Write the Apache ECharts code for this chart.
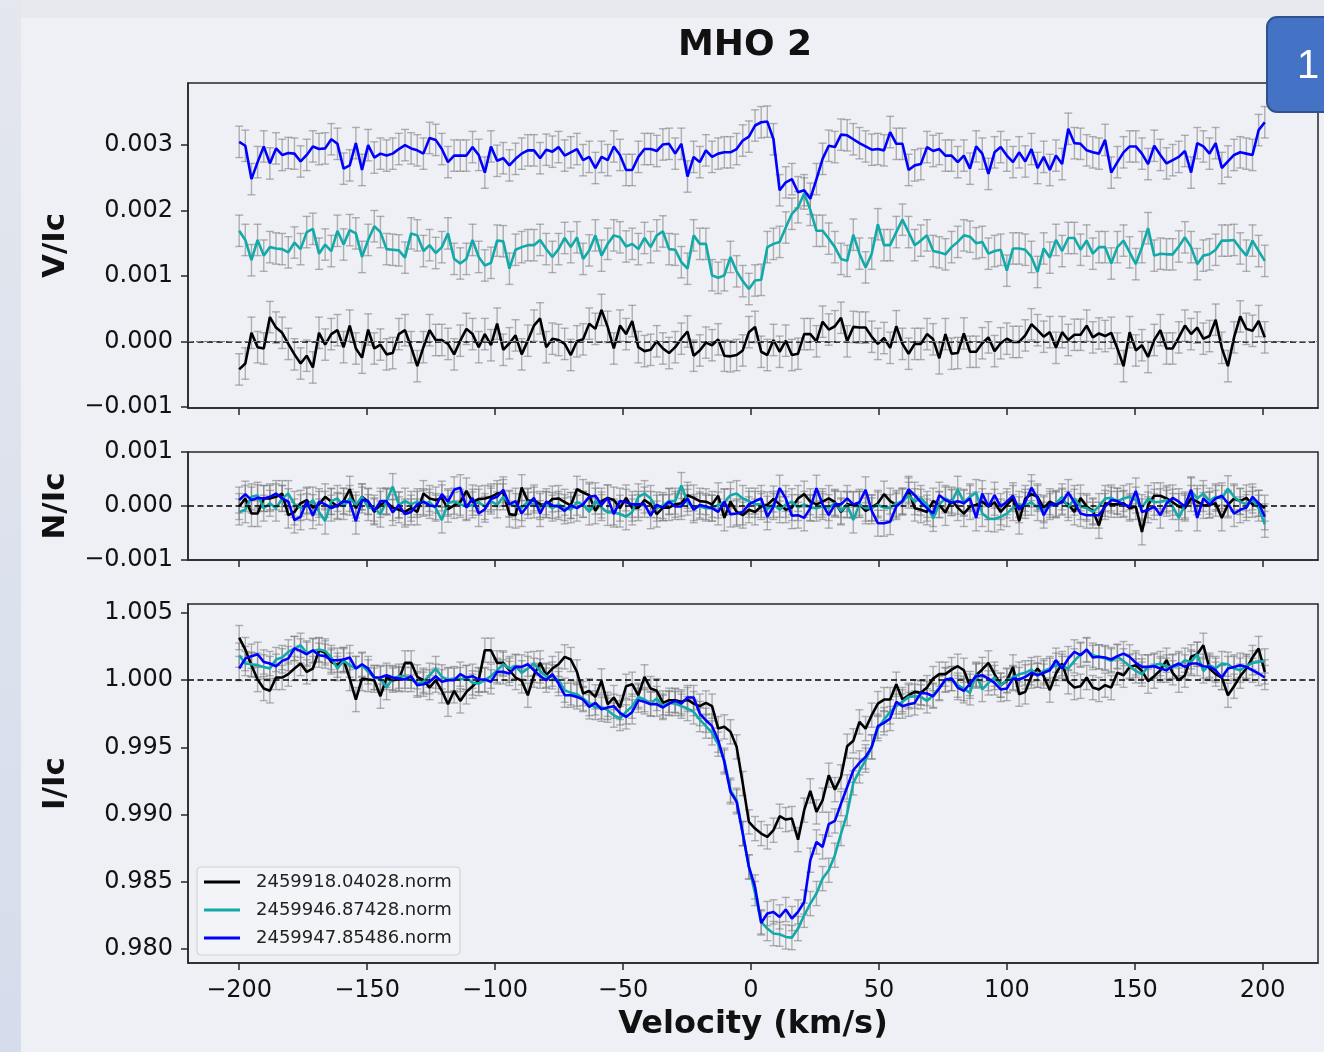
<!DOCTYPE html>
<html>
<head>
<meta charset="utf-8">
<script src="https://cdn.jsdelivr.net/npm/echarts@6/dist/echarts.min.js"></script>
<style>
html,body{margin:0;padding:0;background:#eef0f5;}
#chart{width:1324px;height:1052px;}
</style>
</head>
<body>
<div id="chart"></div>
<script>
// ---------------- data ----------------
const velocity = [
-200,-197.6,-195.2,-192.8,-190.4,-188,-185.6,-183.2,-180.8,-178.4,
-176,-173.6,-171.2,-168.8,-166.4,-164,-161.6,-159.2,-156.8,-154.4,
-152,-149.6,-147.2,-144.8,-142.4,-140,-137.6,-135.2,-132.8,-130.4,
-128,-125.6,-123.2,-120.8,-118.4,-116,-113.6,-111.2,-108.8,-106.4,
-104,-101.6,-99.2,-96.8,-94.4,-92,-89.6,-87.2,-84.8,-82.4,
-80,-77.6,-75.2,-72.8,-70.4,-68,-65.6,-63.2,-60.8,-58.4,
-56,-53.6,-51.2,-48.8,-46.4,-44,-41.6,-39.2,-36.8,-34.4,
-32,-29.6,-27.2,-24.8,-22.4,-20,-17.6,-15.2,-12.8,-10.4,
-8,-5.6,-3.2,-0.8,1.6,4,6.4,8.8,11.2,13.6,
16,18.4,20.8,23.2,25.6,28,30.4,32.8,35.2,37.6,
40,42.4,44.8,47.2,49.6,52,54.4,56.8,59.2,61.6,
64,66.4,68.8,71.2,73.6,76,78.4,80.8,83.2,85.6,
88,90.4,92.8,95.2,97.6,100,102.4,104.8,107.2,109.6,
112,114.4,116.8,119.2,121.6,124,126.4,128.8,131.2,133.6,
136,138.4,140.8,143.2,145.6,148,150.4,152.8,155.2,157.6,
160,162.4,164.8,167.2,169.6,172,174.4,176.8,179.2,181.6,
184,186.4,188.8,191.2,193.6,196,198.4,200.8];

const seriesNames = ['2459918.04028.norm', '2459946.87428.norm', '2459947.85486.norm'];
const seriesColors = ['#000000', '#12a9a9', '#0000ff'];

// V/Ic (teal and blue are displayed shifted by the offsets below)
const vBlack = [
-0.00043,-0.00034,0.00013,-0.00009,-0.00011,0.00037,0.00021,0.00013,-0.00004,-0.00020,
-0.00034,-0.00022,-0.00040,0.00013,-0.00005,0.00011,0.00017,-0.00009,0.00024,-0.00011,
-0.00025,0.00018,-0.00011,-0.00005,-0.00020,-0.00018,0.00011,0.00017,-0.00009,-0.00038,
-0.00009,0.00017,0.00002,0.00002,-0.00004,-0.00020,0.00001,0.00019,0.00011,-0.00009,
0.00011,-0.00006,0.00027,-0.00013,-0.00003,0.00009,-0.00020,0.00001,0.00024,0.00035,
-0.00009,0.00004,0.00002,-0.00004,-0.00021,0.00000,0.00003,0.00027,0.00019,0.00048,
0.00022,-0.00011,0.00024,0.00011,0.00031,-0.00009,-0.00015,-0.00013,0.00000,-0.00011,
-0.00018,-0.00009,0.00004,0.00015,-0.00022,-0.00014,-0.00002,-0.00006,0.00003,-0.00022,
-0.00023,-0.00021,-0.00014,0.00014,0.00022,-0.00016,-0.00021,0.00002,-0.00016,0.00001,
-0.00021,-0.00019,0.00011,0.00011,0.00000,0.00030,0.00018,0.00023,0.00036,0.00000,
0.00022,0.00021,0.00021,0.00007,-0.00004,0.00005,-0.00010,0.00023,-0.00004,-0.00019,
-0.00004,-0.00004,0.00011,0.00003,-0.00026,0.00011,-0.00019,-0.00018,0.00012,-0.00016,
-0.00016,-0.00003,0.00006,-0.00015,-0.00003,0.00004,-0.00001,-0.00001,0.00009,0.00026,
0.00017,0.00007,0.00014,-0.00010,0.00014,0.00002,0.00010,0.00010,0.00024,0.00006,
0.00012,0.00008,0.00013,-0.00011,-0.00038,0.00014,-0.00014,-0.00006,-0.00024,0.00002,
0.00017,-0.00011,-0.00011,0.00006,0.00024,0.00011,0.00021,0.00004,0.00008,0.00033,
-0.00010,-0.00038,0.00006,0.00038,0.00019,0.00016,0.00031,0.00006];

const vTeal = [
0.00169,0.00155,0.00124,0.00155,0.00131,0.00144,0.00142,0.00141,0.00136,0.00151,
0.00141,0.00167,0.00172,0.00134,0.00148,0.00138,0.00169,0.00148,0.00170,0.00165,
0.00129,0.00155,0.00176,0.00167,0.00141,0.00140,0.00139,0.00128,0.00165,0.00162,
0.00138,0.00147,0.00135,0.00144,0.00165,0.00126,0.00119,0.00126,0.00155,0.00129,
0.00116,0.00120,0.00154,0.00153,0.00111,0.00140,0.00144,0.00147,0.00147,0.00155,
0.00141,0.00129,0.00141,0.00158,0.00144,0.00159,0.00126,0.00139,0.00162,0.00131,
0.00149,0.00162,0.00159,0.00145,0.00149,0.00141,0.00158,0.00144,0.00162,0.00168,
0.00141,0.00140,0.00121,0.00111,0.00162,0.00149,0.00149,0.00101,0.00097,0.00101,
0.00129,0.00107,0.00092,0.00080,0.00093,0.00094,0.00144,0.00149,0.00152,0.00174,
0.00195,0.00205,0.00226,0.00201,0.00169,0.00169,0.00157,0.00144,0.00126,0.00123,
0.00163,0.00134,0.00113,0.00134,0.00179,0.00147,0.00147,0.00167,0.00186,0.00167,
0.00147,0.00154,0.00162,0.00138,0.00136,0.00133,0.00144,0.00152,0.00162,0.00160,
0.00150,0.00152,0.00134,0.00138,0.00140,0.00108,0.00142,0.00142,0.00140,0.00129,
0.00106,0.00142,0.00128,0.00155,0.00138,0.00158,0.00158,0.00140,0.00154,0.00134,
0.00144,0.00144,0.00119,0.00144,0.00154,0.00136,0.00118,0.00144,0.00173,0.00131,
0.00134,0.00133,0.00133,0.00145,0.00159,0.00144,0.00118,0.00131,0.00133,0.00140,
0.00154,0.00154,0.00155,0.00142,0.00131,0.00154,0.00138,0.00123];

const vBlue = [
0.00305,0.00299,0.00248,0.00274,0.00298,0.00272,0.00295,0.00285,0.00288,0.00287,
0.00275,0.00285,0.00298,0.00294,0.00295,0.00309,0.00302,0.00264,0.00269,0.00303,
0.00262,0.00300,0.00281,0.00287,0.00284,0.00287,0.00294,0.00300,0.00295,0.00292,
0.00287,0.00311,0.00308,0.00294,0.00274,0.00284,0.00284,0.00284,0.00297,0.00285,
0.00258,0.00298,0.00276,0.00280,0.00269,0.00279,0.00287,0.00292,0.00292,0.00280,
0.00293,0.00290,0.00297,0.00284,0.00289,0.00294,0.00277,0.00282,0.00265,0.00282,
0.00277,0.00298,0.00285,0.00262,0.00262,0.00282,0.00294,0.00294,0.00291,0.00301,
0.00302,0.00287,0.00302,0.00252,0.00282,0.00274,0.00292,0.00282,0.00287,0.00289,
0.00289,0.00294,0.00307,0.00313,0.00330,0.00335,0.00336,0.00309,0.00231,0.00243,
0.00248,0.00228,0.00231,0.00218,0.00248,0.00279,0.00299,0.00297,0.00316,0.00315,
0.00309,0.00303,0.00298,0.00293,0.00294,0.00292,0.00320,0.00302,0.00302,0.00262,
0.00269,0.00271,0.00297,0.00291,0.00294,0.00284,0.00284,0.00274,0.00284,0.00264,
0.00298,0.00287,0.00256,0.00289,0.00297,0.00284,0.00274,0.00289,0.00275,0.00294,
0.00265,0.00282,0.00262,0.00284,0.00271,0.00325,0.00303,0.00302,0.00292,0.00289,
0.00287,0.00308,0.00258,0.00274,0.00289,0.00298,0.00298,0.00287,0.00271,0.00299,
0.00285,0.00272,0.00277,0.00282,0.00291,0.00258,0.00303,0.00298,0.00287,0.00303,
0.00265,0.00275,0.00285,0.00289,0.00287,0.00285,0.00323,0.00335];

const vReferenceLevels = [0, 0.001425, 0.00285];

// N/Ic
const nBlack = [
-0.00001,0.00014,-0.00014,-0.00014,0.00014,0.00014,0.00017,0.00023,-0.00017,-0.00011,
0.00005,0.00011,-0.00003,0.00003,0.00017,0.00008,-0.00001,0.00009,0.00031,-0.00004,
0.00017,0.00008,-0.00011,0.00003,0.00007,-0.00003,-0.00007,-0.00011,-0.00004,-0.00011,
0.00023,0.00014,0.00011,0.00015,-0.00006,0.00001,0.00007,0.00028,0.00007,0.00013,
0.00014,0.00017,0.00023,0.00025,-0.00015,-0.00017,0.00034,0.00009,0.00011,0.00003,
0.00002,0.00013,0.00014,0.00007,0.00001,0.00031,0.00025,0.00020,-0.00009,0.00009,
0.00015,0.00011,-0.00004,0.00015,-0.00004,-0.00003,0.00011,0.00003,-0.00015,-0.00003,
-0.00003,0.00003,0.00005,0.00020,0.00015,0.00009,0.00008,0.00003,0.00019,-0.00022,
0.00008,-0.00011,-0.00017,-0.00007,-0.00011,-0.00001,0.00002,0.00013,0.00003,-0.00007,
-0.00003,0.00014,0.00022,0.00008,0.00003,0.00008,0.00014,0.00007,-0.00011,0.00003,
0.00002,0.00003,-0.00009,-0.00003,0.00005,0.00022,0.00009,0.00002,0.00009,0.00028,
-0.00004,-0.00007,-0.00011,0.00009,0.00002,-0.00012,0.00011,-0.00003,-0.00014,-0.00001,
0.00002,0.00008,-0.00001,0.00007,-0.00011,0.00002,0.00014,-0.00028,0.00014,0.00022,
0.00017,-0.00004,0.00008,0.00002,0.00009,0.00003,-0.00011,0.00015,-0.00001,-0.00009,
-0.00036,0.00005,0.00003,0.00003,0.00005,-0.00004,-0.00001,-0.00048,0.00002,0.00019,
0.00019,0.00014,0.00007,-0.00001,-0.00004,0.00014,0.00008,0.00001,0.00002,0.00005,
-0.00022,0.00002,0.00014,0.00009,0.00015,0.00003,0.00005,-0.00004];

const nTeal = [
-0.00011,-0.00007,0.00017,0.00020,-0.00004,0.00005,-0.00004,0.00014,0.00023,0.00003,
-0.00003,-0.00001,0.00011,-0.00011,-0.00028,0.00009,0.00014,-0.00001,0.00014,0.00002,
0.00017,-0.00003,-0.00004,-0.00015,0.00009,0.00036,0.00002,0.00009,0.00003,0.00008,
0.00005,0.00007,-0.00004,-0.00026,0.00005,0.00009,0.00003,-0.00001,0.00002,0.00007,
-0.00001,0.00009,0.00002,0.00017,0.00005,-0.00001,-0.00003,0.00008,0.00002,-0.00001,
0.00003,-0.00004,0.00003,-0.00003,-0.00007,0.00007,0.00003,-0.00011,0.00009,-0.00003,
-0.00012,-0.00011,-0.00015,-0.00020,-0.00011,0.00017,0.00023,0.00014,-0.00004,0.00001,
0.00009,0.00009,0.00038,0.00007,-0.00003,-0.00001,-0.00004,-0.00004,0.00002,0.00007,
0.00020,0.00023,0.00014,0.00009,0.00003,0.00003,-0.00006,0.00003,-0.00007,0.00003,
0.00008,-0.00003,0.00003,-0.00003,-0.00004,-0.00001,-0.00003,0.00005,-0.00009,0.00002,
-0.00026,0.00003,-0.00004,-0.00004,0.00002,-0.00003,-0.00003,0.00005,0.00007,0.00020,
0.00008,0.00014,0.00003,-0.00023,0.00003,0.00014,0.00007,0.00031,0.00007,0.00017,
0.00025,-0.00014,-0.00023,-0.00024,-0.00020,-0.00014,-0.00003,0.00003,0.00001,0.00007,
-0.00003,-0.00007,-0.00001,0.00005,0.00017,-0.00003,0.00014,-0.00001,-0.00004,-0.00011,
-0.00001,0.00014,0.00015,0.00009,0.00014,0.00017,0.00011,-0.00003,0.00014,0.00007,
0.00008,0.00011,-0.00001,-0.00022,0.00002,0.00028,0.00014,0.00023,0.00009,0.00017,
0.00014,0.00032,0.00017,0.00008,0.00003,0.00011,-0.00004,-0.00034];

const nBlue = [
0.00011,0.00022,0.00011,0.00015,0.00014,0.00017,0.00023,0.00014,0.00008,-0.00026,
-0.00020,0.00009,-0.00018,0.00008,0.00003,-0.00004,0.00001,0.00009,0.00007,-0.00028,
0.00011,0.00009,-0.00009,0.00009,0.00009,-0.00012,0.00002,-0.00015,-0.00011,0.00003,
0.00008,0.00001,-0.00001,0.00022,0.00008,0.00030,0.00034,-0.00003,0.00015,-0.00014,
-0.00006,0.00013,0.00017,0.00030,0.00003,0.00009,-0.00014,0.00001,0.00015,-0.00014,
0.00008,0.00001,-0.00001,-0.00009,0.00001,-0.00004,0.00003,0.00017,0.00019,0.00002,
0.00015,-0.00015,0.00009,0.00007,0.00003,0.00003,0.00003,-0.00018,0.00002,-0.00003,
0.00008,-0.00001,-0.00001,0.00014,-0.00007,0.00002,-0.00001,-0.00004,-0.00011,0.00008,
-0.00015,-0.00014,-0.00011,0.00003,0.00009,0.00014,-0.00020,-0.00001,0.00033,0.00014,
-0.00018,-0.00017,-0.00022,-0.00004,0.00033,0.00003,-0.00017,0.00003,0.00003,0.00014,
0.00003,0.00007,0.00030,-0.00009,-0.00032,-0.00032,-0.00029,-0.00001,0.00009,0.00031,
0.00020,0.00007,-0.00004,-0.00014,0.00020,0.00011,0.00006,0.00009,0.00005,0.00014,
-0.00022,0.00023,-0.00001,0.00020,-0.00001,0.00008,0.00019,-0.00007,0.00007,0.00034,
0.00014,-0.00017,0.00003,0.00003,0.00007,0.00025,0.00007,-0.00014,-0.00017,-0.00017,
-0.00017,-0.00001,0.00011,0.00009,0.00003,-0.00001,0.00028,-0.00011,-0.00007,-0.00001,
-0.00017,0.00005,0.00015,0.00008,-0.00001,0.00030,-0.00022,0.00014,0.00002,0.00014,
0.00019,0.00005,-0.00014,-0.00007,-0.00003,0.00017,0.00005,-0.00020];

// I/Ic
const iBlack = [
1.00317,1.00228,1.00112,1.00005,0.99938,0.99921,1.00020,1.00020,1.00045,1.00087,
1.00124,1.00062,1.00087,1.00223,1.00203,1.00136,1.00112,1.00154,1.00012,0.99856,
1.00012,1.00005,1.00000,0.99881,1.00020,1.00000,1.00005,1.00129,1.00129,1.00025,
1.00000,0.99945,1.00000,0.99921,0.99821,0.99921,0.99846,0.99913,0.99955,1.00000,
1.00223,1.00223,1.00129,1.00129,1.00074,1.00020,0.99995,0.99888,1.00037,1.00129,
1.00037,1.00087,1.00119,1.00174,1.00154,1.00062,0.99901,0.99921,0.99876,0.99995,
0.99821,0.99871,0.99797,0.99955,0.99970,0.99888,1.00025,0.99938,0.99921,0.99831,
0.99851,0.99851,0.99839,0.99856,0.99826,0.99807,0.99831,0.99807,0.99640,0.99653,
0.99616,0.99504,0.99231,0.98946,0.98896,0.98859,0.98834,0.98884,0.98988,0.98963,
0.98971,0.98814,0.99033,0.99177,0.99020,0.99107,0.99293,0.99186,0.99281,0.99509,
0.99549,0.99690,0.99640,0.99740,0.99826,0.99856,0.99856,0.99970,0.99856,0.99888,
0.99913,0.99906,0.99945,1.00012,1.00045,1.00045,1.00079,1.00104,1.00074,0.99955,
1.00037,1.00080,1.00129,1.00045,0.99963,0.99995,1.00099,0.99896,0.99913,1.00030,
1.00087,1.00030,0.99926,1.00050,1.00124,0.99988,0.99945,0.99955,1.00020,0.99945,
0.99931,0.99963,0.99945,1.00055,1.00037,1.00099,1.00112,1.00069,0.99993,1.00030,
1.00074,1.00149,1.00055,1.00000,1.00037,1.00174,1.00193,1.00260,1.00087,1.00045,
1.00020,0.99888,0.99955,1.00030,1.00087,1.00169,1.00236,1.00062];

const iTeal = [
1.00186,1.00124,1.00119,1.00112,1.00099,1.00087,1.00154,1.00169,1.00211,1.00236,
1.00260,1.00203,1.00218,1.00228,1.00218,1.00169,1.00087,1.00144,1.00112,1.00087,
1.00112,1.00062,1.00020,1.00012,0.99945,1.00012,1.00030,1.00030,1.00005,0.99975,
0.99988,1.00037,1.00087,1.00025,1.00005,1.00012,1.00005,1.00020,0.99980,0.99975,
1.00000,1.00030,1.00074,1.00119,1.00087,1.00104,1.00055,1.00087,1.00124,1.00069,
1.00030,1.00025,1.00000,0.99926,0.99906,0.99896,0.99864,0.99826,0.99797,0.99802,
0.99777,0.99740,0.99715,0.99764,0.99807,0.99876,0.99856,0.99826,0.99864,0.99807,
0.99831,0.99826,0.99807,0.99789,0.99764,0.99707,0.99658,0.99608,0.99524,0.99405,
0.99182,0.99107,0.98859,0.98611,0.98413,0.98202,0.98152,0.98115,0.98110,0.98090,
0.98085,0.98152,0.98251,0.98338,0.98413,0.98524,0.98586,0.98698,0.98859,0.99008,
0.99236,0.99325,0.99405,0.99504,0.99640,0.99707,0.99764,0.99807,0.99839,0.99876,
0.99881,0.99876,0.99846,0.99888,0.99945,1.00000,1.00012,0.99963,0.99938,0.99906,
1.00045,0.99931,0.99980,1.00020,0.99963,1.00000,1.00020,1.00045,1.00055,1.00079,
1.00037,1.00069,1.00087,1.00112,1.00104,1.00087,1.00144,1.00193,1.00223,1.00186,
1.00174,1.00161,1.00144,1.00174,1.00144,1.00104,1.00069,1.00045,1.00099,1.00112,
1.00124,1.00099,1.00099,1.00112,1.00149,1.00136,1.00193,1.00069,1.00112,1.00087,
1.00124,1.00119,1.00087,1.00074,1.00104,1.00129,1.00135,1.00144];

const iBlue = [
1.00087,1.00161,1.00179,1.00193,1.00136,1.00124,1.00104,1.00144,1.00161,1.00236,
1.00218,1.00193,1.00223,1.00186,1.00179,1.00149,1.00149,1.00154,1.00169,1.00087,
1.00119,1.00087,1.00020,1.00020,1.00037,1.00020,1.00012,1.00005,1.00030,0.99963,
0.99970,0.99988,1.00030,0.99988,1.00000,1.00000,1.00045,1.00020,1.00030,1.00005,
1.00005,0.99988,1.00062,1.00062,1.00050,1.00099,1.00099,1.00119,1.00074,1.00030,
1.00000,1.00045,0.99975,0.99888,0.99888,0.99876,0.99856,0.99802,0.99831,0.99784,
0.99797,0.99807,0.99757,0.99727,0.99764,0.99851,0.99839,0.99821,0.99821,0.99797,
0.99826,0.99846,0.99826,0.99871,0.99871,0.99752,0.99702,0.99658,0.99554,0.99392,
0.99169,0.99095,0.98859,0.98611,0.98462,0.98194,0.98264,0.98276,0.98239,0.98294,
0.98227,0.98276,0.98350,0.98661,0.98797,0.98760,0.98929,0.98953,0.99082,0.99206,
0.99330,0.99385,0.99430,0.99504,0.99658,0.99683,0.99715,0.99839,0.99807,0.99821,
0.99831,0.99906,0.99901,0.99881,0.99938,1.00005,1.00012,0.99945,0.99921,0.99975,
1.00030,1.00037,1.00012,0.99980,0.99931,0.99938,1.00012,1.00005,1.00025,1.00055,
1.00037,1.00055,1.00074,1.00149,1.00087,1.00161,1.00211,1.00186,1.00228,1.00169,
1.00174,1.00169,1.00154,1.00179,1.00198,1.00174,1.00129,1.00099,1.00099,1.00104,
1.00087,1.00074,1.00104,1.00124,1.00099,1.00124,1.00124,1.00104,1.00099,1.00074,
1.00020,1.00087,1.00099,1.00112,1.00099,1.00074,1.00050,1.00020];

// error-bar half widths per panel
const errV = 0.00024;
const errN = 0.00024;
const errI = 0.0009;

// tick positions
const xTicks = [-200, -150, -100, -50, 0, 50, 100, 150, 200];
const vTicks = [-0.001, 0.000, 0.001, 0.002, 0.003];
const nTicks = [-0.001, 0.000, 0.001];
const iTicks = [0.980, 0.985, 0.990, 0.995, 1.000, 1.005];

// ---------------- chart ----------------
const FONT = 'DejaVu Sans';
const ERR_COLOR = 'rgba(120,120,120,0.55)';
const AXIS_COLOR = '#262626';

function fmt3(v) {
  const s = (Math.abs(v) < 1e-12 ? 0 : v).toFixed(3);
  return s.replace('-', '\u2212');
}
function fmtX(v) {
  return String(Math.round(v)).replace('-', '\u2212');
}

const grids = [
  {left: 188, top: 83, width: 1130, height: 325},
  {left: 188, top: 452, width: 1130, height: 108},
  {left: 188, top: 604, width: 1130, height: 359}
].map(g => Object.assign(g, {show: true, borderColor: AXIS_COLOR, borderWidth: 1.5, backgroundColor: 'transparent'}));

const xAxes = [0, 1, 2].map(k => ({
  type: 'value', gridIndex: k, min: -220, max: 221.6, position: 'bottom',
  axisLine: {show: true, onZero: false, lineStyle: {color: AXIS_COLOR, width: 1.5}},
  splitLine: {show: false},
  axisTick: {show: true, length: 7, lineStyle: {color: AXIS_COLOR, width: 1.5}, customValues: xTicks},
  axisLabel: {show: k === 2, customValues: xTicks, formatter: fmtX, fontSize: 24, fontFamily: FONT, color: '#111', margin: 13, padding: [3, 0, 0, 0]},
  name: k === 2 ? 'Velocity (km/s)' : '',
  nameLocation: 'middle', nameGap: 46,
  nameTextStyle: {fontSize: 32, fontWeight: 'bold', fontFamily: FONT, color: '#111'}
}));

function yAxis(k, min, max, ticks, name) {
  return {
    type: 'value', gridIndex: k, min: min, max: max, position: 'left',
    axisLine: {show: true, onZero: false, lineStyle: {color: AXIS_COLOR, width: 1.5}},
    splitLine: {show: false},
    axisTick: {show: true, length: 7, lineStyle: {color: AXIS_COLOR, width: 1.5}, customValues: ticks},
    axisLabel: {show: true, customValues: ticks, formatter: fmt3, fontSize: 24, fontFamily: FONT, color: '#111', margin: 15, padding: [5, 0, 0, 0]},
    name: name, nameLocation: 'middle', nameGap: 117, nameRotate: 90,
    nameTextStyle: {fontSize: 31, fontWeight: 'bold', fontFamily: FONT, color: '#111'}
  };
}
const yAxes = [
  yAxis(0, -0.00102, 0.00395, vTicks, 'V/Ic'),
  yAxis(1, -0.001, 0.001, nTicks, 'N/Ic'),
  yAxis(2, 0.97896, 1.00567, iTicks, 'I/Ic')
];

function errRender(params, api) {
  const x = api.value(0), lo = api.value(1), hi = api.value(2);
  const p1 = api.coord([x, lo]), p2 = api.coord([x, hi]);
  const cap = 4;
  const style = {stroke: ERR_COLOR, lineWidth: 1.4};
  return {
    type: 'group', children: [
      {type: 'line', shape: {x1: p1[0], y1: p1[1], x2: p2[0], y2: p2[1]}, style: style},
      {type: 'line', shape: {x1: p1[0] - cap, y1: p1[1], x2: p1[0] + cap, y2: p1[1]}, style: style},
      {type: 'line', shape: {x1: p2[0] - cap, y1: p2[1], x2: p2[0] + cap, y2: p2[1]}, style: style}
    ]
  };
}

const blackDash = {type: [6, 3.5], width: 1.6, color: '#000'};
const grayDash = {type: [5, 3], width: 1.1, color: '#7a7a7a'};

function refLines(levels) {
  return {
    silent: true, symbol: ['none', 'none'], label: {show: false}, animation: false,
    data: levels.map(l => ({yAxis: l.v, lineStyle: l.style}))
  };
}

const panels = [
  {k: 0, sets: [vBlack, vTeal, vBlue], err: errV,
   refs: [{v: vReferenceLevels[0], style: blackDash}, {v: vReferenceLevels[1], style: grayDash}, {v: vReferenceLevels[2], style: grayDash}]},
  {k: 1, sets: [nBlack, nTeal, nBlue], err: errN, refs: [{v: 0, style: blackDash}]},
  {k: 2, sets: [iBlack, iTeal, iBlue], err: errI, refs: [{v: 1.0, style: blackDash}]}
];

const series = [];
panels.forEach(p => {
  p.sets.forEach((arr, s) => {
    series.push({
      type: 'custom', xAxisIndex: p.k, yAxisIndex: p.k, renderItem: errRender, silent: true, z: 1,
      encode: {x: 0, y: [1, 2]},
      data: velocity.map((v, i) => [v, arr[i] - p.err, arr[i] + p.err])
    });
  });
  p.sets.forEach((arr, s) => {
    const ser = {
      type: 'line', name: seriesNames[s], xAxisIndex: p.k, yAxisIndex: p.k,
      showSymbol: false, symbol: 'none', z: 3 + s,
      lineStyle: {color: seriesColors[s], width: 2.6},
      itemStyle: {color: seriesColors[s]},
      data: velocity.map((v, i) => [v, arr[i]])
    };
    if (s === 0) ser.markLine = refLines(p.refs);
    series.push(ser);
  });
});

const chart = echarts.init(document.getElementById('chart'), null, {renderer: 'canvas'});
chart.setOption({
  animation: false,
  backgroundColor: '#eef0f5',
  title: {
    text: 'MHO 2', left: 740, top: 23, textAlign: 'center',
    textStyle: {fontSize: 36, fontWeight: 'bold', fontFamily: FONT, color: '#111'}
  },
  legend: {
    data: seriesNames, orient: 'vertical', left: 197, top: 867,
    padding: [5, 8, 7, 7], itemGap: 8, itemWidth: 36, itemHeight: 2.8, icon: 'rect',
    backgroundColor: 'rgba(242,244,248,0.85)', borderColor: '#cfd2d8', borderWidth: 1.2, borderRadius: 4,
    selectedMode: false,
    textStyle: {fontSize: 18, fontFamily: FONT, color: '#222', padding: [0, 0, 0, 11], lineHeight: 20}
  },
  grid: grids,
  xAxis: xAxes,
  yAxis: yAxes,
  series: series,
  graphic: [
    {type: 'rect', z: 0, silent: true, shape: {x: 0, y: 0, width: 1324, height: 18}, style: {fill: '#e7e9ee'}},
    {type: 'rect', z: 0, silent: true, shape: {x: 0, y: 0, width: 21, height: 1052},
     style: {fill: new echarts.graphic.LinearGradient(0, 0, 0, 1, [{offset: 0, color: '#e4e7ee'}, {offset: 1, color: '#d5ddec'}])}},
    {type: 'rect', z: 100, silent: true, shape: {x: 1267, y: 17, width: 90, height: 95, r: 10},
     style: {fill: '#4472c4', stroke: '#2f528f', lineWidth: 2}},
    {type: 'text', z: 101, silent: true, left: 1297, top: 47,
     style: {text: '1', fill: '#ffffff', font: '40px "Liberation Sans"'}}
  ]
});
</script>
</body>
</html>
